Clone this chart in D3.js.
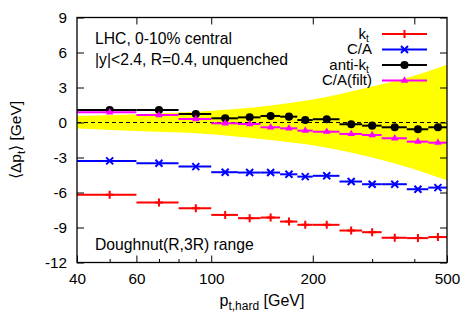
<!DOCTYPE html>
<html>
<head>
<meta charset="utf-8">
<script src="https://cdn.jsdelivr.net/npm/d3@7"></script>
<style>
  body { margin: 0; background: #fff; }
  svg text { font-family: "Liberation Sans", Arial, sans-serif; }
</style>
</head>
<body>
<div id="wrapper"></div>
<script>
// bin edges in pt,hard (GeV), one value per bin for each algorithm
const ptEdges = [40, 60, 80, 100, 120, 140, 160, 180, 200, 240, 280, 320, 380, 440, 500];
const ktShift = [-6.2, -6.86, -7.35, -7.92, -8.2, -8.15, -8.49, -8.77, -8.77, -9.26, -9.4, -9.88, -9.91, -9.82];
const caShift = [-3.29, -3.49, -3.78, -4.26, -4.29, -4.29, -4.44, -4.64, -4.57, -5.06, -5.29, -5.29, -5.72, -5.58];
const antiktShift = [1.07, 1.07, 0.73, 0.36, 0.44, 0.56, 0.5, 0.21, 0.28, -0.15, -0.27, -0.41, -0.58, -0.41];
const cafiltShift = [0.87, 0.64, 0.30, -0.07, -0.13, -0.41, -0.5, -0.7, -0.79, -0.98, -1.07, -1.35, -1.64, -1.73];

// yellow band
const bandPt = [40, 60, 100, 150, 200, 300, 400, 500];
const bandUp = [0.55, 0.7, 1.0, 1.45, 1.97, 3.08, 4.0, 4.95];
const bandLo = [-0.52, -0.72, -1.0, -1.5, -1.95, -3.0, -4.0, -4.95];

// ticks
const xMajor = [40, 60, 100, 200, 500];
const xMinor = [50, 70, 80, 90, 300, 400];
const xTop = [60, 100, 200, 400];
const yTicks = [-12, -9, -6, -3, 0, 3, 6, 9];

const series = [
  { name: "k", sub: "t", color: "#ff0000", values: ktShift, mark: "plus" },
  { name: "C/A", sub: "", color: "#0000ff", values: caShift, mark: "cross" },
  { name: "anti-k", sub: "t", color: "#000000", values: antiktShift, mark: "circle" },
  { name: "C/A(filt)", sub: "", color: "#ff00ff", values: cafiltShift, mark: "triangle" },
];

const width = 470, height = 329;
const plotL = 77, plotR = 447, plotT = 17.5, plotB = 262.5;

const x = d3.scaleLog().domain([40, 500]).range([plotL, plotR]);
const y = d3.scaleLinear().domain([-12, 9]).range([plotB, plotT]);

const svg = d3.select("#wrapper")
  .append("svg")
  .attr("width", width)
  .attr("height", height);

// band
const area = d3.area()
  .curve(d3.curveMonotoneX)
  .x((d, i) => x(bandPt[i]))
  .y0((d, i) => y(bandLo[i]))
  .y1((d, i) => y(bandUp[i]));

svg.append("path")
  .attr("d", area(bandPt))
  .attr("fill", "#ffff00");

// zero line
svg.append("line")
  .attr("x1", plotL).attr("x2", plotR)
  .attr("y1", y(0)).attr("y2", y(0))
  .attr("stroke", "#000")
  .attr("stroke-width", 1)
  .attr("stroke-dasharray", "4,3");

function marker(g, type, color) {
  if (type === "plus") {
    g.append("path").attr("d", "M-4,0H4M0,-4V4")
      .attr("stroke", color).attr("stroke-width", 2).attr("fill", "none");
  } else if (type === "cross") {
    g.append("path").attr("d", "M-3.5,-3.5L3.5,3.5M-3.5,3.5L3.5,-3.5")
      .attr("stroke", color).attr("stroke-width", 2).attr("fill", "none");
  } else if (type === "circle") {
    g.append("path").attr("d", d3.symbol(d3.symbolCircle, 52)())
      .attr("fill", color);
  } else {
    g.append("path").attr("d", d3.symbol(d3.symbolTriangle, 24)())
      .attr("fill", color);
  }
}

// bins
const bins = d3.range(ptEdges.length - 1);

series.forEach(s => {
  const g = svg.append("g");
  g.selectAll("line")
    .data(bins)
    .enter()
    .append("line")
    .attr("x1", i => x(ptEdges[i]))
    .attr("x2", i => x(ptEdges[i + 1]))
    .attr("y1", i => y(s.values[i]))
    .attr("y2", i => y(s.values[i]))
    .attr("stroke", s.color)
    .attr("stroke-width", 2);
  g.selectAll("g")
    .data(bins)
    .enter()
    .append("g")
    .attr("transform", i => `translate(${x((ptEdges[i] + ptEdges[i + 1]) / 2)}, ${y(s.values[i])})`)
    .each(function () { marker(d3.select(this), s.mark, s.color); });
});

// axes, ticks pointing inwards
function styleAxis(g) {
  g.select(".domain").remove();
  g.selectAll("text").attr("font-size", 15.3).attr("fill", "#000")
    .attr("font-family", "Liberation Sans, Arial, sans-serif");
  g.selectAll("line").attr("stroke", "#000");
}

svg.append("g")
  .attr("transform", `translate(0,${plotB})`)
  .call(d3.axisBottom(x).tickValues(xMajor).tickFormat(d => String(d))
    .tickSizeInner(-7).tickSizeOuter(0).tickPadding(11))
  .call(styleAxis);

svg.append("g")
  .attr("transform", `translate(0,${plotB})`)
  .call(d3.axisBottom(x).tickValues(xMinor).tickFormat("")
    .tickSizeInner(-3.5).tickSizeOuter(0))
  .call(styleAxis);

svg.append("g")
  .attr("transform", `translate(0,${plotT})`)
  .call(d3.axisTop(x).tickValues(xTop).tickFormat("")
    .tickSizeInner(-7).tickSizeOuter(0))
  .call(styleAxis);

svg.append("g")
  .attr("transform", `translate(${plotL},0)`)
  .call(d3.axisLeft(y).tickValues(yTicks).tickFormat(d => String(d))
    .tickSizeInner(-7).tickSizeOuter(0).tickPadding(10))
  .call(styleAxis);

svg.append("g")
  .attr("transform", `translate(${plotR},0)`)
  .call(d3.axisRight(y).tickValues(yTicks).tickFormat("")
    .tickSizeInner(-7).tickSizeOuter(0))
  .call(styleAxis);

// frame
svg.append("rect")
  .attr("x", plotL).attr("y", plotT)
  .attr("width", plotR - plotL).attr("height", plotB - plotT)
  .attr("fill", "none")
  .attr("stroke", "#000")
  .attr("stroke-width", 1.3);

// axis titles
const xt = svg.append("text")
  .attr("x", (plotL + plotR) / 2)
  .attr("y", 306)
  .attr("text-anchor", "middle")
  .attr("font-size", 16);
xt.append("tspan").text("p");
xt.append("tspan").attr("font-size", 12).attr("dy", 4).text("t,hard");
xt.append("tspan").attr("dy", -4).text(" [GeV]");

const yt = svg.append("text")
  .attr("transform", `translate(21,${(plotT + plotB) / 2}) rotate(-90)`)
  .attr("text-anchor", "middle")
  .attr("font-size", 15.5);
yt.append("tspan").text("\u27e8\u0394p");
yt.append("tspan").attr("font-size", 11.5).attr("dy", 4).text("t");
yt.append("tspan").attr("dy", -4).text("\u27e9 [GeV]");

// labels inside
svg.append("text").attr("x", 95).attr("y", 44).attr("font-size", 15.7)
  .text("LHC, 0-10% central");
svg.append("text").attr("x", 95).attr("y", 65).attr("font-size", 15.7)
  .text("|y|<2.4, R=0.4, unquenched");
svg.append("text").attr("x", 95).attr("y", 250).attr("font-size", 15.7)
  .text("Doughnut(R,3R) range");

// legend
const legend = svg.append("g");
series.forEach((s, i) => {
  const ly = 34 + i * 15.5;
  legend.append("text")
    .attr("x", s.sub ? 366 : 372)
    .attr("y", ly + 4.5)
    .attr("text-anchor", "end")
    .attr("font-size", 15)
    .text(s.name);
  if (s.sub) {
    legend.append("text")
      .attr("x", 366).attr("y", ly + 7.5)
      .attr("font-size", 10)
      .text(s.sub);
  }
  legend.append("line")
    .attr("x1", 382).attr("x2", 427)
    .attr("y1", ly).attr("y2", ly)
    .attr("stroke", s.color)
    .attr("stroke-width", 2);
  const m = legend.append("g").attr("transform", `translate(404.5, ${ly})`);
  marker(m, s.mark, s.color);
});
</script>
</body>
</html>
